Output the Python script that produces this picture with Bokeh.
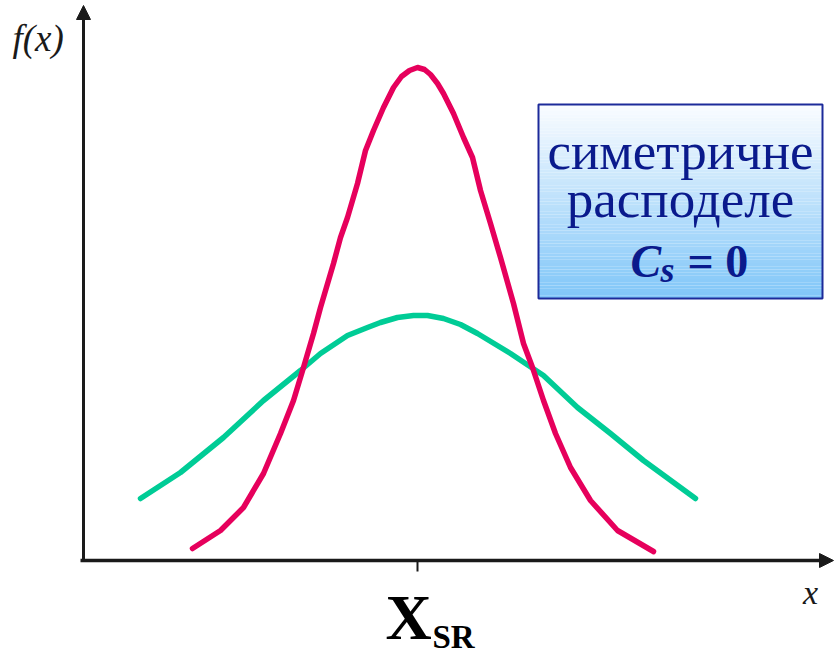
from bokeh.plotting import figure
from bokeh.models import Range1d, Arrow, NormalHead
from bokeh.core.properties import value
from bokeh.embed import file_html
from bokeh.resources import INLINE

# ---- data (abstract units: x relative to X_SR, y = f(x)) ----
narrow_x = [-225, -197, -174, -154, -137, -124, -114, -104, -97, -84, -77, -70, -60, -52, -44, -34, -24, -16, -8, 0,
            7, 13, 20, 26, 36, 46, 55, 63, 73, 83, 96, 106, 115, 126, 138, 153, 173, 200, 236]
narrow_y = [12, 30, 53, 87, 127, 160, 193, 227, 253, 297, 323, 343, 377, 410, 430, 453, 473, 484, 490, 493,
            491, 486, 477, 467, 447, 423, 403, 370, 337, 303, 257, 217, 193, 160, 127, 93, 60, 30, 9]

wide_x = [-277, -237, -194, -154, -117, -97, -70, -50, -37, -20, -4, 10, 26, 43, 60, 93, 126, 160, 193, 226, 278]
wide_y = [62, 88, 123, 160, 190, 207, 225, 233, 238, 243, 245, 245, 242, 236, 227, 207, 185, 153, 127, 100, 62]

mean_tick = [0]
box_lines = ["симетричне", "расподеле"]
y_label = "f(x)"
x_label = "x"
mean_label_main = "X"
mean_label_sub = "SR"
cs_main, cs_sub, cs_rest = "C", "s", "= 0"

RED = "#E6005C"
TEAL = "#00CC96"
NAVY = "#0A1A8C"
AXIS = "#1A1A1A"
SERIF = "Liberation Serif"

p = figure(width=834, height=654, output_backend="svg", toolbar_location=None,
           x_range=Range1d(-417, 417), y_range=Range1d(-94, 560),
           x_axis_type=None, y_axis_type=None, min_border=0,
           outline_line_color=None, background_fill_color="white")
p.grid.visible = False

# curves
p.line(wide_x, wide_y, line_color=TEAL, line_width=5.5, line_cap="round", line_join="round")
p.line(narrow_x, narrow_y, line_color=RED, line_width=5.5, line_cap="round", line_join="round")

# axes as arrows
p.add_layout(Arrow(x_start=-337, y_start=0, x_end=416, y_end=0, line_color=AXIS, line_width=3.5,
                   end=NormalHead(size=14, fill_color=AXIS, line_color=AXIS)))
p.add_layout(Arrow(x_start=-334, y_start=-1, x_end=-334, y_end=555, line_color=AXIS, line_width=3,
                   end=NormalHead(size=14, fill_color=AXIS, line_color=AXIS)))
p.segment(x0=mean_tick, y0=[0], x1=mean_tick, y1=[-11], line_color=AXIS, line_width=2)

# gradient box
bx0, bx1, by0, by1 = 121, 405, 262, 456
n = 60
top_rgb = (250, 252, 255)
bot_rgb = (128, 198, 248)
tops, bots, cols = [], [], []
for i in range(n):
    t0 = by1 - (by1 - by0) * i / n
    t1 = by1 - (by1 - by0) * (i + 1) / n
    f = (i + 0.5) / n
    c = tuple(int(round(top_rgb[k] + (bot_rgb[k] - top_rgb[k]) * f)) for k in range(3))
    tops.append(t0)
    bots.append(t1)
    cols.append("#%02x%02x%02x" % c)
p.quad(left=[bx0] * n, right=[bx1] * n, top=tops, bottom=bots, fill_color=cols, line_color=None)
p.quad(left=[bx0], right=[bx1], top=[by1], bottom=[by0], fill_color=None, line_color="#1C2A9A", line_width=2)

# box text
p.text(x=[263, 263], y=[410, 362], text=box_lines, text_align="center", text_baseline="alphabetic",
       text_font=value(SERIF), text_font_size="53px", text_color=NAVY)
p.text(x=[213], y=[299], text=[cs_main], text_align="left", text_baseline="alphabetic",
       text_font=value(SERIF), text_font_style="bold italic", text_font_size="46px", text_color=NAVY)
p.text(x=[243], y=[291], text=[cs_sub], text_align="left", text_baseline="alphabetic",
       text_font=value(SERIF), text_font_style="bold italic", text_font_size="36px", text_color=NAVY)
p.text(x=[270], y=[299], text=[cs_rest], text_align="left", text_baseline="alphabetic",
       text_font=value(SERIF), text_font_style="bold", text_font_size="46px", text_color=NAVY)

# axis labels
p.text(x=[-405], y=[522], text=[y_label], text_align="left", text_baseline="alphabetic",
       text_font=value(SERIF), text_font_style="italic", text_font_size="37px", text_color=AXIS)
p.text(x=[393], y=[-32], text=[x_label], text_align="center", text_baseline="alphabetic",
       text_font=value(SERIF), text_font_style="italic", text_font_size="34px", text_color=AXIS)
p.text(x=[-32], y=[-57], text=[mean_label_main], text_align="left", text_baseline="alphabetic",
       text_font=value(SERIF), text_font_style="bold", text_font_size="64px", text_color="black")
p.text(x=[15], y=[-76], text=[mean_label_sub], text_align="left", text_baseline="alphabetic",
       text_font=value(SERIF), text_font_style="bold", text_font_size="33px", text_color="black")

open("out.html", "w").write(file_html(p, INLINE))
